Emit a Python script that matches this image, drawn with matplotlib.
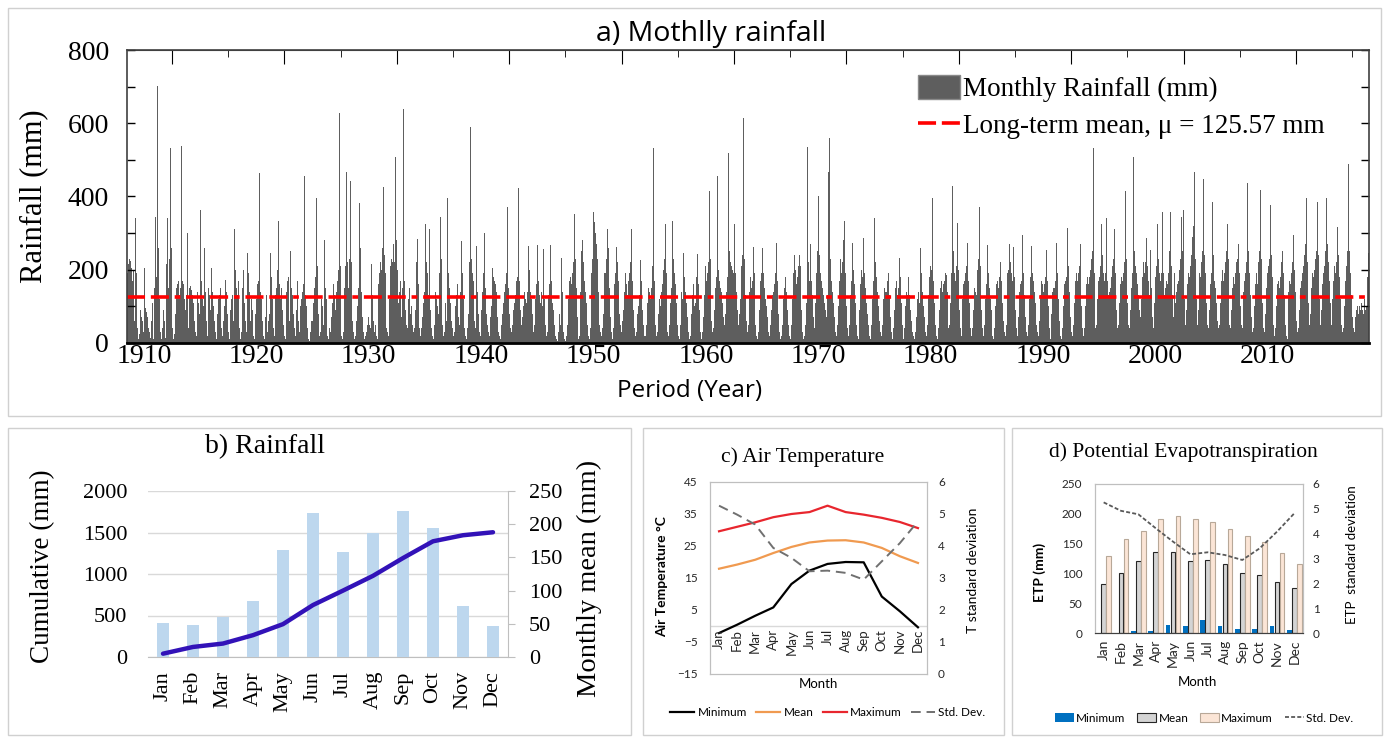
import matplotlib.pyplot as plt
import numpy as np
from matplotlib.patches import Rectangle, Patch
from matplotlib.lines import Line2D
from matplotlib.ticker import MultipleLocator

W, H = 1385, 738

SERIF = ['Liberation Serif', 'DejaVu Serif']
SANS = ['Open Sans', 'DejaVu Sans']
CAL = ['Lato', 'DejaVu Sans']

# a) monthly rainfall (mm); one row per year, Jan..Dec. Series starts Jul 1908
rain_1908 = [190, 215, 230, 225, 205, 170]
rain_1909_1919 = [
    [200, 130, 60, 340, 190, 40, 10, 25, 90, 70, 60, 30],
    [205, 95, 85, 70, 40, 20, 30, 15, 60, 110, 10, 150],
    [343, 180, 701, 260, 120, 30, 10, 40, 90, 210, 60, 15],
    [215, 340, 150, 230, 532, 260, 40, 10, 25, 80, 150, 160],
    [170, 90, 130, 150, 537, 170, 160, 120, 90, 130, 301, 40],
    [150, 155, 145, 130, 110, 120, 60, 30, 20, 140, 110, 80],
    [364, 170, 120, 100, 260, 140, 60, 20, 10, 150, 130, 90],
    [205, 140, 100, 60, 30, 10, 80, 120, 130, 150, 40, 20],
    [30, 60, 100, 172, 140, 80, 30, 10, 90, 120, 130, 60],
    [312, 200, 150, 130, 288, 170, 40, 10, 30, 150, 200, 110],
    [60, 30, 247, 190, 140, 60, 120, 90, 30, 20, 10, 80],
]
rain_1920s = [
    [120, 160, 170, 463, 140, 120, 60, 20, 10, 70, 130, 110],
    [30, 60, 80, 247, 180, 120, 40, 20, 130, 150, 200, 332],
    [160, 120, 150, 130, 90, 50, 20, 10, 140, 170, 180, 60],
    [252, 150, 130, 80, 40, 20, 90, 140, 170, 60, 30, 100],
    [120, 140, 160, 455, 130, 100, 40, 10, 5, 30, 60, 40],
    [60, 110, 150, 180, 395, 210, 80, 20, 30, 120, 100, 50],
    [282, 150, 120, 60, 20, 10, 40, 30, 70, 110, 160, 130],
    [90, 140, 170, 200, 627, 210, 100, 20, 10, 30, 150, 210],
    [468, 220, 150, 230, 441, 220, 60, 30, 10, 20, 40, 60],
    [100, 150, 381, 260, 140, 70, 30, 10, 20, 30, 50, 70],
]
rain_1930s = [
    [50, 40, 110, 216, 130, 60, 30, 50, 20, 10, 160, 190],
    [220, 200, 260, 425, 240, 190, 90, 40, 30, 20, 120, 210],
    [230, 220, 270, 220, 507, 280, 200, 110, 140, 170, 100, 70],
    [150, 638, 170, 90, 50, 40, 120, 150, 80, 100, 50, 30],
    [40, 60, 90, 220, 285, 160, 40, 20, 40, 70, 110, 140],
    [326, 220, 190, 130, 312, 240, 90, 40, 20, 10, 50, 140],
    [120, 100, 80, 190, 345, 230, 50, 20, 30, 90, 110, 60],
    [397, 190, 150, 110, 60, 40, 20, 30, 100, 130, 160, 70],
    [50, 90, 140, 279, 190, 120, 40, 20, 10, 40, 80, 220],
    [589, 230, 190, 170, 90, 60, 40, 266, 140, 80, 30, 20],
]
rain_1940s = [
    [90, 140, 190, 299, 150, 80, 50, 30, 10, 20, 70, 100],
    [205, 180, 170, 160, 140, 70, 30, 20, 10, 50, 80, 110],
    [120, 140, 160, 190, 370, 150, 80, 40, 30, 50, 90, 110],
    [130, 170, 180, 422, 220, 170, 90, 50, 70, 100, 140, 120],
    [110, 140, 266, 200, 140, 120, 80, 30, 20, 50, 120, 160],
    [268, 170, 130, 110, 140, 100, 257, 120, 50, 20, 30, 90],
    [130, 160, 268, 170, 110, 90, 50, 20, 10, 5, 30, 80],
    [50, 233, 140, 80, 30, 10, 5, 20, 50, 120, 170, 180],
    [160, 190, 220, 351, 230, 150, 70, 30, 10, 20, 140, 250],
    [282, 220, 170, 140, 110, 50, 20, 10, 40, 190, 230, 170],
]
rain_1950s = [
    [359, 330, 300, 270, 230, 140, 50, 30, 20, 40, 80, 190],
    [190, 230, 310, 600, 260, 150, 70, 30, 10, 40, 160, 190],
    [262, 220, 170, 80, 50, 30, 20, 60, 90, 140, 190, 160],
    [130, 170, 190, 220, 310, 170, 90, 40, 20, 30, 50, 80],
    [100, 130, 227, 170, 90, 50, 20, 20, 50, 110, 150, 140],
    [120, 150, 180, 210, 532, 170, 50, 20, 30, 80, 120, 100],
    [140, 160, 200, 230, 326, 190, 70, 30, 20, 50, 110, 150],
    [332, 230, 190, 160, 110, 50, 20, 10, 50, 100, 140, 120],
    [247, 180, 140, 110, 70, 30, 10, 20, 80, 130, 160, 100],
    [110, 150, 180, 243, 160, 90, 30, 10, 30, 70, 130, 210],
]
rain_1960s = [
    [170, 190, 220, 414, 230, 150, 60, 30, 40, 90, 150, 180],
    [455, 200, 170, 150, 140, 110, 70, 50, 80, 110, 140, 180],
    [518, 250, 220, 210, 200, 190, 326, 190, 140, 90, 50, 80],
    [120, 170, 210, 240, 614, 230, 130, 60, 30, 50, 140, 180],
    [150, 170, 262, 190, 130, 50, 20, 10, 30, 90, 170, 190],
    [260, 190, 150, 120, 100, 70, 30, 20, 30, 50, 90, 130],
    [140, 160, 190, 274, 170, 80, 30, 10, 20, 50, 120, 150],
    [262, 180, 140, 90, 50, 20, 10, 50, 120, 190, 240, 200],
    [160, 180, 210, 240, 419, 210, 90, 30, 10, 20, 50, 110],
    [534, 220, 170, 270, 170, 130, 70, 40, 50, 110, 190, 250],
]
rain_1970s = [
    [400, 240, 190, 170, 150, 130, 110, 90, 70, 130, 467, 240],
    [559, 230, 170, 140, 110, 70, 30, 20, 50, 100, 170, 230],
    [190, 220, 282, 170, 334, 190, 100, 40, 20, 50, 130, 170],
    [274, 200, 160, 110, 50, 20, 10, 40, 90, 160, 200, 180],
    [288, 190, 150, 110, 80, 50, 20, 10, 50, 120, 170, 160],
    [342, 220, 180, 140, 100, 60, 30, 20, 50, 120, 150, 140],
    [140, 170, 364, 190, 130, 70, 30, 10, 40, 90, 150, 170],
    [130, 150, 233, 180, 110, 50, 20, 10, 40, 100, 140, 130],
    [180, 130, 90, 60, 30, 20, 10, 30, 70, 120, 150, 140],
    [110, 260, 190, 140, 100, 70, 30, 20, 50, 130, 180, 210],
]
rain_1980s = [
    [200, 395, 230, 170, 110, 50, 20, 10, 40, 90, 150, 170],
    [140, 160, 170, 190, 186, 140, 80, 40, 50, 110, 190, 430],
    [250, 190, 170, 210, 329, 200, 90, 40, 20, 50, 120, 160],
    [170, 190, 210, 274, 170, 110, 40, 20, 40, 90, 150, 140],
    [130, 170, 200, 230, 370, 210, 90, 40, 20, 50, 120, 160],
    [268, 190, 150, 120, 90, 50, 20, 10, 40, 100, 160, 170],
    [150, 180, 222, 170, 110, 60, 30, 20, 50, 120, 190, 200],
    [270, 220, 190, 170, 262, 180, 90, 40, 20, 70, 140, 160],
    [170, 200, 296, 190, 130, 70, 30, 20, 50, 120, 180, 265],
    [190, 170, 140, 110, 80, 50, 30, 20, 60, 130, 170, 160],
]
rain_1990s = [
    [140, 160, 180, 255, 170, 100, 40, 10, 30, 80, 140, 150],
    [150, 170, 274, 190, 120, 60, 20, 10, 40, 100, 160, 170],
    [160, 180, 315, 210, 140, 70, 30, 20, 50, 110, 170, 190],
    [170, 190, 210, 270, 180, 100, 40, 20, 40, 100, 160, 180],
    [160, 180, 200, 230, 250, 532, 190, 90, 40, 50, 120, 170],
    [180, 210, 326, 240, 190, 170, 190, 342, 170, 130, 140, 160],
    [150, 180, 210, 230, 312, 190, 90, 40, 50, 110, 160, 180],
    [170, 190, 220, 250, 416, 230, 110, 50, 40, 90, 150, 190],
    [507, 250, 210, 190, 160, 130, 90, 50, 70, 120, 180, 220],
    [190, 220, 288, 210, 170, 130, 255, 150, 70, 40, 110, 170],
]
rain_2000s = [
    [180, 210, 326, 230, 190, 170, 190, 359, 190, 130, 150, 170],
    [160, 190, 220, 250, 359, 210, 130, 70, 190, 110, 140, 160],
    [170, 200, 230, 345, 250, 362, 210, 120, 50, 90, 160, 190],
    [180, 210, 240, 290, 320, 466, 230, 120, 50, 90, 150, 190],
    [180, 220, 250, 449, 240, 190, 110, 50, 40, 90, 160, 190],
    [384, 240, 200, 170, 150, 110, 60, 40, 50, 110, 170, 200],
    [170, 190, 220, 250, 326, 230, 120, 50, 40, 90, 150, 180],
    [160, 190, 220, 230, 270, 190, 100, 50, 40, 80, 140, 170],
    [190, 220, 438, 250, 190, 130, 70, 30, 40, 100, 160, 190],
    [160, 190, 220, 250, 419, 230, 110, 40, 30, 80, 150, 190],
]
rain_2010s = [
    [210, 230, 378, 240, 180, 120, 50, 20, 40, 100, 160, 170],
    [150, 180, 220, 252, 190, 130, 50, 20, 10, 70, 140, 170],
    [160, 190, 220, 296, 200, 140, 60, 30, 40, 90, 150, 170],
    [170, 190, 210, 240, 270, 397, 220, 110, 50, 80, 150, 190],
    [180, 200, 230, 250, 290, 386, 240, 120, 50, 90, 160, 190],
    [210, 250, 397, 270, 220, 170, 110, 50, 70, 120, 170, 210],
    [190, 220, 318, 240, 180, 120, 50, 30, 40, 100, 170, 210],
    [220, 250, 490, 250, 190, 130, 70, 40, 30, 70, 90, 100],
    [80, 100, 90, 110, 100, 90, 80, 120, 90, 100, 180, 247],
]
long_term_mean = 125.57
year_ticks = [1910, 1920, 1930, 1940, 1950, 1960, 1970, 1980, 1990, 2000, 2010]

# b) rainfall climatology
months = ['Jan', 'Feb', 'Mar', 'Apr', 'May', 'Jun', 'Jul', 'Aug', 'Sep', 'Oct', 'Nov', 'Dec']
rain_mean = [51.5, 48, 60.5, 84, 160.5, 217, 157.5, 187, 220.5, 194, 77, 46.5]
rain_cum = [40, 121, 162, 263, 396, 626, 800, 978, 1192, 1394, 1467, 1503]

# c) air temperature (deg C) and its standard deviation
t_min = [-2.2, 0.4, 3.2, 5.8, 13.1, 17.3, 19.4, 20.0, 19.9, 9.2, 4.6, -0.4]
t_mean = [17.9, 19.2, 20.7, 22.8, 24.7, 26.1, 26.7, 26.8, 26.1, 24.4, 21.8, 19.7]
t_max = [29.6, 31.0, 32.4, 34.0, 35.0, 35.6, 37.6, 35.6, 34.8, 33.8, 32.5, 30.6]
t_std = [5.26, 4.98, 4.67, 3.94, 3.63, 3.21, 3.23, 3.16, 2.95, 3.52, 4.09, 4.77]

# d) potential evapotranspiration (mm)
etp_min = [0, 0, 3, 3, 13, 11, 21, 11, 6, 6, 11, 5]
etp_mean = [83, 101, 121, 136, 136.5, 120, 122.5, 115, 101, 98, 86, 76]
etp_max = [130, 158, 171, 191, 196, 190.5, 186, 174, 163, 152, 134, 115]
etp_std = [5.26, 4.92, 4.78, 4.22, 3.68, 3.17, 3.25, 3.14, 2.94, 3.41, 4.08, 4.82]


def box(l, t, r, b):
    return [l / W, 1 - b / H, (r - l) / W, (b - t) / H]


def ftext(x, y, s, **kw):
    kw.setdefault('ha', 'center')
    kw.setdefault('va', 'center')
    fig.text(x / W, 1 - y / H, s, **kw)


def frame(l, t, r, b):
    fig.add_artist(Rectangle((l / W, 1 - b / H), (r - l) / W, (b - t) / H,
                             transform=fig.transFigure, fill=False,
                             edgecolor='#d0d0d0', lw=1))


fig = plt.figure(figsize=(W / 100, H / 100), dpi=100)
frame(8, 8, 1381, 416)
frame(8, 428, 631, 735)
frame(643, 428, 1004, 735)
frame(1012, 428, 1382, 735)

# ---------------- a) monthly rainfall ----------------
monthly = np.concatenate([rain_1908] + [np.ravel(d) for d in
                          (rain_1909_1919, rain_1920s, rain_1930s, rain_1940s,
                           rain_1950s, rain_1960s, rain_1970s, rain_1980s,
                           rain_1990s, rain_2000s, rain_2010s)])
xm = 1908 + (6 + np.arange(len(monthly)) + 0.5) / 12

ax_a = fig.add_axes(box(127, 50, 1369, 343))
ax_a.bar(xm, monthly, width=1 / 12, color='#5e5e5e', linewidth=0,
         antialiased=False)
mean_ls = (0, (5, 1.6, 5, 1.6, 1.6, 1.6))
ax_a.axhline(long_term_mean, color='#ff0000', lw=2.6, ls=mean_ls)
ax_a.set_xlim(1908.5, 2019.0)
ax_a.set_ylim(0, 800)
ax_a.set_xticks(year_ticks)
ax_a.set_yticks([0, 200, 400, 600, 800])
ax_a.yaxis.set_minor_locator(MultipleLocator(100))
ax_a.tick_params(axis='x', length=0, pad=1, labelsize=20)
ax_a.tick_params(axis='y', which='both', direction='in', left=True, right=True,
                 length=6, width=1, pad=13, labelsize=20)
for lab in ax_a.get_xticklabels() + ax_a.get_yticklabels():
    lab.set_family(SERIF)
for s in ('top', 'right', 'left'):
    ax_a.spines[s].set_color('#404040')
    ax_a.spines[s].set_linewidth(1.2)
ax_a.spines['bottom'].set_linewidth(2)
top = ax_a.secondary_xaxis('top')
top.set_xticks([1912.5 + 10 * k for k in range(11)])
top.set_xticks([1917.5 + 10 * k for k in range(11)], minor=True)
top.tick_params(which='major', direction='in', length=10, labeltop=False)
top.tick_params(which='minor', direction='in', length=5)
top.spines['top'].set_color('#404040')

handles = [Patch(facecolor='#5e5e5e', edgecolor='#8a8a8a'),
           Line2D([], [], color='#ff0000', lw=2.6, ls=mean_ls)]
ax_a.legend(handles, ['Monthly Rainfall (mm)', 'Long-term mean, μ = 125.57 mm'],
            loc='upper left', bbox_to_anchor=(918 / W, 1 - 75 / H),
            bbox_transform=fig.transFigure, frameon=False,
            prop={'family': SERIF, 'size': 19.5}, handlelength=1.55,
            handleheight=1.0, handletextpad=0.12, labelspacing=0.35,
            borderpad=0, borderaxespad=0)
ftext(711, 34, 'a) Mothlly rainfall', family=SANS, fontsize=20.5)
ftext(34, 196, 'Rainfall (mm)', family=SERIF, fontsize=22, rotation=90)
ftext(690, 391, 'Period (Year)', family=SANS, fontsize=17.5)

# ---------------- b) rainfall climatology ----------------
xc = np.arange(12)
ax_b = fig.add_axes(box(148, 491, 508, 657))
ax_b.set_xlim(-0.5, 11.5)
ax_b.set_ylim(0, 2000)
ax_b.set_yticks([0, 500, 1000, 1500, 2000])
ax_b.grid(axis='y', color='#d9d9d9', lw=1)
for s in ('top', 'right', 'left'):
    ax_b.spines[s].set_visible(False)
ax_b.spines['bottom'].set_color('#bfbfbf')
ax_b.set_xticks(xc)
ax_b.set_xticklabels(months, rotation=90)
ax_b.tick_params(axis='x', length=0, pad=10, labelsize=16)
ax_b.tick_params(axis='y', length=0, pad=15, labelsize=16)
for lab in ax_b.get_xticklabels() + ax_b.get_yticklabels():
    lab.set_family(SERIF)

ax_b2 = ax_b.twinx()
ax_b2.bar(xc, rain_mean, width=0.38, color='#bdd7ee')
ax_b2.set_ylim(0, 250)
ax_b2.set_yticks([0, 50, 100, 150, 200, 250])
for s in ('top', 'left', 'bottom'):
    ax_b2.spines[s].set_visible(False)
ax_b2.spines['right'].set_color('#bfbfbf')
ax_b2.tick_params(axis='y', direction='out', length=5, color='#bfbfbf',
                  pad=10, labelsize=16)
for lab in ax_b2.get_yticklabels():
    lab.set_family(SERIF)

ax_b3 = ax_b.twinx()
ax_b3.plot(xc, rain_cum, color='#3212b8', lw=3.2, solid_capstyle='round')
ax_b3.set_ylim(0, 2000)
ax_b3.axis('off')

ftext(265, 447, 'b) Rainfall', family=SERIF, fontsize=20)
ftext(43, 566, 'Cumulative (mm)', family=SERIF, fontsize=19.5, rotation=90)
ftext(589, 578, 'Monthly mean (mm)', family=SERIF, fontsize=20.5, rotation=90)

# ---------------- c) air temperature ----------------
ax_c = fig.add_axes(box(710, 482, 927, 674))
ax_c.plot(xc, t_min, color='#000000', lw=1.6, label='Minimum')
ax_c.plot(xc, t_mean, color='#f09a50', lw=1.6, label='Mean')
ax_c.plot(xc, t_max, color='#e8262e', lw=1.6, label='Maximum')
ax_c.axhline(0, color='#d9d9d9', lw=1, zorder=0)
ax_c.set_xlim(-0.5, 11.5)
ax_c.set_ylim(-15, 45)
ax_c.set_yticks([-15, -5, 5, 15, 25, 35, 45])
ax_c.set_xticks([])
for i, m in enumerate(months):
    ax_c.text(i, -0.9, m, rotation=90, ha='center', va='top',
              family=CAL, fontsize=9.5, color='#262626')
ax_c.tick_params(axis='y', length=0, pad=9, labelsize=8.5, labelcolor='#262626')
for s in ax_c.spines.values():
    s.set_color('#bfbfbf')
ax_c2 = ax_c.twinx()
ax_c2.plot(xc, t_std, color='#707070', lw=1.4, ls=(0, (5, 3)), label='Std. Dev.')
ax_c2.set_ylim(0, 6)
ax_c2.set_yticks(range(7))
ax_c2.tick_params(axis='y', length=0, pad=8, labelsize=8.5, labelcolor='#262626')
for s in ax_c2.spines.values():
    s.set_color('#bfbfbf')
for lab in ax_c.get_yticklabels() + ax_c2.get_yticklabels():
    lab.set_family(CAL)
hc = ax_c.get_lines()[:3] + ax_c2.get_lines()
fig.legend(hc, ['Minimum', 'Mean', 'Maximum', 'Std. Dev.'], loc='center',
           bbox_to_anchor=(828 / W, 1 - 713 / H), ncol=4, frameon=False,
           prop={'family': CAL, 'size': 8.5}, handlelength=2.0,
           handletextpad=0.3, columnspacing=0.8, borderpad=0)
ftext(803, 457, 'c) Air Temperature', family=SERIF, fontsize=15.5)
ftext(662, 577, 'Air Temperature °C', family=CAL, fontsize=10, weight='bold',
      rotation=90)
ftext(973, 570, 'T standard deviation', family=CAL, fontsize=10, rotation=90)
ftext(818, 684, 'Month', family=CAL, fontsize=9.5)

# ---------------- d) potential evapotranspiration ----------------
ax_d = fig.add_axes(box(1095, 484, 1303, 633))
bw = 0.27
ax_d.bar(xc - 0.29, etp_min, bw, color='#0070c0', label='Minimum')
ax_d.bar(xc, etp_mean, bw, color='#d4d4d4', edgecolor='#262626', lw=0.8,
         label='Mean')
ax_d.bar(xc + 0.29, etp_max, bw, color='#fbe5d6', edgecolor='#b8a898', lw=0.8,
         label='Maximum')
ax_d.set_xlim(-0.5, 11.5)
ax_d.set_ylim(0, 250)
ax_d.set_yticks([0, 50, 100, 150, 200, 250])
ax_d.set_xticks(xc)
ax_d.set_xticklabels(months, rotation=90)
ax_d.tick_params(axis='x', length=0, pad=5, labelsize=10, labelcolor='#262626')
ax_d.tick_params(axis='y', length=0, pad=9, labelsize=8.5, labelcolor='#262626')
for s in ax_d.spines.values():
    s.set_color('#bfbfbf')
ax_d.spines['bottom'].set_color('#404040')
ax_d2 = ax_d.twinx()
ax_d2.plot(xc, etp_std, color='#595959', lw=1.3, ls=(0, (2.2, 1.2)),
           label='Std. Dev.')
ax_d2.set_ylim(0, 6)
ax_d2.set_yticks(range(7))
ax_d2.tick_params(axis='y', length=0, pad=7, labelsize=8.5, labelcolor='#262626')
for s in ax_d2.spines.values():
    s.set_color('#bfbfbf')
ax_d2.spines['bottom'].set_color('#404040')
for lab in ax_d.get_xticklabels() + ax_d.get_yticklabels() + ax_d2.get_yticklabels():
    lab.set_family(CAL)
hd, ld = ax_d.get_legend_handles_labels()
hd2, ld2 = ax_d2.get_legend_handles_labels()
fig.legend(hd + hd2, ld + ld2, loc='center', bbox_to_anchor=(1204 / W, 1 - 718 / H),
           ncol=4, frameon=False, prop={'family': CAL, 'size': 8.5},
           handlelength=1.6, handleheight=0.8, handletextpad=0.2,
           columnspacing=1.0, borderpad=0)
ftext(1183, 452, 'd) Potential Evapotranspiration', family=SERIF, fontsize=15.5)
ftext(1040, 572, 'ETP (mm)', family=CAL, fontsize=10, weight='bold', rotation=90)
ftext(1352, 555, 'ETP  standard deviation', family=CAL, fontsize=9.5, rotation=90)
ftext(1197, 682, 'Month', family=CAL, fontsize=9.5)

fig.savefig('out.png', dpi=100)
